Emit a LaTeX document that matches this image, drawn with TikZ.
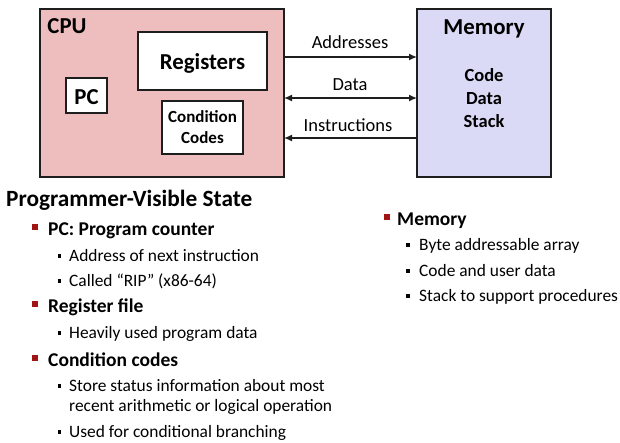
\documentclass[tikz,border=0pt]{standalone}
\usepackage{fontspec}
\setmainfont{Carlito}
\usetikzlibrary{arrows.meta}
\definecolor{cpufill}{RGB}{238,189,189}
\definecolor{memfill}{RGB}{218,218,246}
\definecolor{edge}{RGB}{30,30,30}
\definecolor{bulletred}{RGB}{160,20,20}
\begin{document}
\begin{tikzpicture}[x=1pt,y=-1pt,
  bigbox/.style={draw=edge,line width=2.2pt},
  innerbox/.style={draw=edge,line width=1.6pt,fill=white},
  boxlabel/.style={font=\fontsize{22.8}{26}\selectfont\bfseries,anchor=base},
  smalllabel/.style={font=\fontsize{18.5}{21}\selectfont\bfseries,anchor=base,align=center},
  arrlabel/.style={font=\fontsize{18.5}{21}\selectfont,anchor=base},
  bus/.style={line width=1.4pt,draw=edge},
  tip/.style={-{Latex[length=8pt,width=7pt]}},
  title/.style={font=\fontsize{23.3}{27}\selectfont\bfseries,anchor=base west,inner sep=0pt},
  mainitem/.style={font=\fontsize{19.5}{23}\selectfont\bfseries,anchor=base west,inner sep=0pt},
  subitem/.style={font=\fontsize{17.4}{20}\selectfont,anchor=base west,inner sep=0pt},
  mainbullet/.style={fill=bulletred,minimum size=6pt,inner sep=0pt},
  subbullet/.style={fill=black,minimum size=3.6pt,inner sep=0pt}
]
\useasboundingbox (0,0) rectangle (620,442);
% CPU
\draw[bigbox,fill=cpufill] (40,9) rectangle (284,177);
\coordinate (cpuE1) at (284,57);
\coordinate (cpuE2) at (284,98);
\coordinate (cpuE3) at (284,138);
\node[boxlabel] (cpulbl) at (67,33) {CPU};
\draw[innerbox] (138,32) rectangle (267,90);
\node[boxlabel] (reg) at (202.5,69) {Registers};
\draw[innerbox] (66,78) rectangle (107,113);
\node[boxlabel] (pc) at (86.5,104) {PC};
\draw[innerbox] (162,101) rectangle (243,154);
\node[smalllabel,anchor=center,font=\fontsize{17}{21}\selectfont\bfseries] (cc) at (202.5,127.5) {Condition\\Codes};
% Memory
\draw[bigbox,fill=memfill] (417,9) rectangle (551,177);
\coordinate (memW1) at (417,57);
\coordinate (memW2) at (417,98);
\coordinate (memW3) at (417,138);
\node[boxlabel] (memlbl) at (484,34) {Memory};
\node[smalllabel] (code) at (484,81) {Code};
\node[smalllabel] (data) at (484,104) {Data};
\node[smalllabel] (stack) at (484,127) {Stack};
% buses
\draw[bus,tip] (cpuE1) -- (memW1);
\draw[bus,{Latex[length=8pt,width=7pt]}-{Latex[length=8pt,width=7pt]}] (cpuE2) -- (memW2);
\draw[bus,tip] (memW3) -- (cpuE3);
\node[arrlabel] (addr) at (350,48) {Addresses};
\node[arrlabel] (dlbl) at (350,90) {Data};
\node[arrlabel] (ins) at (348,131) {Instructions};
% text
\node[title] (t) at (6,206) {Programmer-Visible State};
\node[mainbullet] (b1) at (35,227) {};
\node[mainitem] (i1) at (48,235) {PC: Program counter};
\node[subbullet] (s1) at (59.5,256) {};
\node[subitem] (j1) at (69,261) {Address of next instruction};
\node[subbullet] (s2) at (59.5,281) {};
\node[subitem] (j2) at (69,286) {Called “RIP” (x86-64)};
\node[mainbullet] (b2) at (35,304) {};
\node[mainitem] (i2) at (48,312) {Register file};
\node[subbullet] (s3) at (59.5,333) {};
\node[subitem] (j3) at (69,338) {Heavily used program data};
\node[mainbullet] (b3) at (35,358) {};
\node[mainitem] (i3) at (48,366) {Condition codes};
\node[subbullet] (s4) at (59.5,386) {};
\node[subitem] (j4) at (69,391) {Store status information about most};
\node[subitem] (j5) at (69,411) {recent arithmetic or logical operation};
\node[subbullet] (s5) at (59.5,432) {};
\node[subitem] (j6) at (69,437) {Used for conditional branching};
% right column
\node[mainbullet] (b4) at (387,217) {};
\node[mainitem] (i4) at (397,225) {Memory};
\node[subbullet] (s6) at (408,245) {};
\node[subitem] (k1) at (419,250) {Byte addressable array};
\node[subbullet] (s7) at (408,271) {};
\node[subitem] (k2) at (419,276) {Code and user data};
\node[subbullet] (s8) at (408,296) {};
\node[subitem] (k3) at (419,301) {Stack to support procedures};
\end{tikzpicture}
\end{document}
